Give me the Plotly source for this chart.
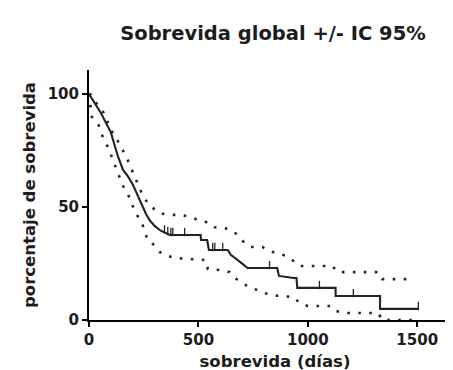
import numpy as np
import plotly.graph_objects as go

# Kaplan-Meier estimate (days, % survival)
main_days = [0, 9, 32, 55, 78, 100, 115, 132, 155, 178, 200, 223, 237, 260, 278, 301, 328, 351, 370, 510,
             512, 540, 548, 634, 648, 680, 725, 860, 868, 935, 948, 952, 1127, 1127, 1330, 1330, 1505]
main_surv = [100, 98.5, 95, 91.5, 87.5, 83, 78, 72.5, 66.5, 63.5, 60, 55, 52.5, 47, 44, 41.5, 39.5, 38.5, 37.6, 37.6,
             35.4, 35.4, 31, 31, 28.8, 26.5, 23, 23, 19.5, 18.6, 18.6, 14.2, 14.2, 10.6, 10.6, 4.9, 4.9]

# Upper 95% CI
upper_days = [0, 9, 27, 46, 68, 87, 100, 123, 137, 155, 178, 215, 246, 278, 301, 330, 383, 420, 465, 506,
              552, 575, 620, 657, 689, 711, 739, 793, 825, 866, 903, 935, 962, 1113, 1135, 1322, 1340, 1470]
upper_surv = [100, 99.6, 97, 94, 91.6, 87, 84, 81, 78, 75, 70.5, 62, 55, 50.4, 49, 47, 46.5, 46.5, 45.5, 44,
              43, 41, 40.7, 39.4, 36.7, 34, 32.3, 32.3, 30.5, 29.2, 28.3, 26.1, 23.9, 23.9, 21.2, 21.2, 18.1, 18.1]

# Lower 95% CI
lower_days = [0, 5, 12, 41, 55, 68, 87, 100, 118, 132, 146, 164, 187, 200, 214, 230, 246, 269, 301, 324,
              360, 397, 534, 543, 597, 643, 666, 693, 730, 768, 803, 850, 935, 962, 999, 1103, 1127, 1172,
              1322, 1340, 1500]
lower_surv = [100, 95, 90, 87, 83.6, 79.6, 76.5, 73, 68.6, 65, 61.5, 57.5, 54, 50.4, 47.3, 44.5, 41.8, 35, 33, 30,
              28.3, 27.4, 26.5, 22.6, 22.1, 21.2, 18.6, 16.8, 14.6, 13.3, 11.9, 10.8, 10.2, 7.5, 6.2, 6.2, 4, 3.1,
              3.1, 0, 0]

# Censored observations (days)
censor_days = [345, 360, 374, 383, 437, 565, 575, 611, 825, 1053, 1208, 1505]

x_ticks = [0, 500, 1000, 1500]
y_ticks = [0, 50, 100]

title_text = "Sobrevida global +/- IC 95%"
x_title = "sobrevida (días)"
y_title = "porcentaje de sobrevida"

censor_surv = np.interp(censor_days, main_days, main_surv) + 1.3

fig = go.Figure()
dot_style = dict(color="#262626", width=2.6, dash="2.6px,8.4px")
fig.add_trace(go.Scatter(x=upper_days, y=upper_surv, mode="lines", line=dot_style, cliponaxis=False,
                         hoverinfo="skip"))
fig.add_trace(go.Scatter(x=lower_days, y=lower_surv, mode="lines", line=dot_style, cliponaxis=False,
                         hoverinfo="skip"))
fig.add_trace(go.Scatter(x=main_days, y=main_surv, mode="lines",
                         line=dict(color="#222222", width=2.1)))
fig.add_trace(go.Scatter(x=censor_days, y=censor_surv, mode="markers",
                         marker=dict(symbol="line-ns", size=6, line=dict(color="#222222", width=1.3))))

bold = dict(family="DejaVu Sans, Verdana, sans-serif", color="#1c1c1c", weight="bold")

fig.update_layout(
    width=453, height=370,
    margin=dict(l=81, r=0, t=62, b=58, autoexpand=False),
    plot_bgcolor="white", paper_bgcolor="white",
    showlegend=False,
    font=dict(family="DejaVu Sans, Verdana, sans-serif", color="#1c1c1c"),
    title=dict(text=title_text, font=dict(bold, size=19.5), x=265 / 453, xanchor="center", xref="container",
               y=1 - 25 / 370, yref="container", yanchor="middle"),
)
fig.update_xaxes(range=[0, 1700], tickvals=x_ticks, ticktext=[str(v) for v in x_ticks],
                 ticks="outside", ticklen=5, tickwidth=2, tickcolor="black",
                 showline=True, linewidth=2, linecolor="black", showgrid=False, zeroline=False,
                 tickfont=dict(bold, size=15), automargin=False,
                 title=dict(text=x_title, font=dict(bold, size=16.5), standoff=7))
fig.update_yaxes(range=[0, 110.6], tickvals=y_ticks, ticktext=[str(v) for v in y_ticks],
                 ticks="outside", ticklen=5, tickwidth=2, tickcolor="black",
                 showline=True, linewidth=2, linecolor="black", showgrid=False, zeroline=False,
                 tickfont=dict(bold, size=15), automargin=False,
                 title=dict(text=y_title, font=dict(bold, size=16.5), standoff=8))

fig.write_html("out.html")
